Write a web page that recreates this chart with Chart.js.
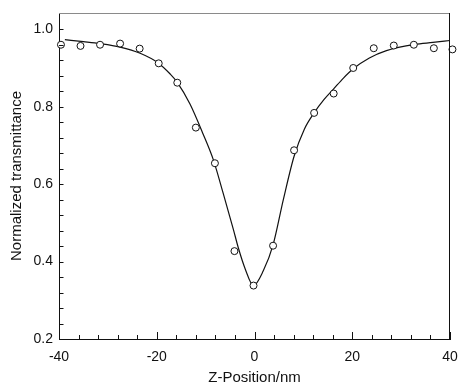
<!DOCTYPE html>
<html>
<head>
<meta charset="utf-8">
<script src="https://cdn.jsdelivr.net/npm/chart.js@4"></script>
<style>
  html, body { margin: 0; padding: 0; background: #fff; }
</style>
</head>
<body>
<canvas id="myChart" width="458" height="389"></canvas>
<script>
// measured points (open circles)
var zPos = [-39.6, -35.6, -31.6, -27.5, -23.5, -19.6, -15.8, -12.0, -8.1, -4.1, -0.2,
    3.8, 8.1, 12.2, 16.2, 20.2, 24.4, 28.5, 32.6, 36.7, 40.5];
var transm = [0.960, 0.957, 0.960, 0.963, 0.950, 0.912, 0.862, 0.746, 0.654, 0.427, 0.338,
    0.441, 0.6875, 0.784, 0.834, 0.900, 0.951, 0.958, 0.960, 0.951, 0.948];

// fitted curve
var fitZ = [-38.8, -35, -31.6, -27.5, -23.4, -19.7, -17.3, -15.8, -13.2, -10.5, -8.4, -6.4,
    -4.3, -3.3, -1.9, -0.2, 1.8, 3.8, 5.9, 8.1, 10.2, 12.2, 14.2, 16.2, 18.2, 20.2, 23.5,
    27.0, 32.8, 36.5, 40];
var fitT = [0.973, 0.968, 0.963, 0.954, 0.938, 0.913, 0.885, 0.863, 0.807, 0.729, 0.662, 0.576,
    0.482, 0.435, 0.381, 0.338, 0.376, 0.443, 0.560, 0.672, 0.742, 0.784, 0.818, 0.846, 0.874, 0.898, 0.926,
    0.945, 0.961, 0.966, 0.971];

var xTicks = [-40, -20, 0, 20, 40];
var yTicks = [0.2, 0.4, 0.6, 0.8, 1.0];
var xMinor = [-36, -32, -28, -24, -16, -12, -8, -4, 4, 8, 12, 16, 24, 28, 32, 36];
var yMinor = [0.24, 0.28, 0.32, 0.36, 0.44, 0.48, 0.52, 0.56, 0.64, 0.68, 0.72, 0.76,
    0.84, 0.88, 0.92, 0.96];

var pts = zPos.map(function (z, i) { return { x: z, y: transm[i] }; });
var fit = fitZ.map(function (z, i) { return { x: z, y: fitT[i] }; });

// frame + inward tick marks
var frame = {
    id: 'frame',
    afterDatasetsDraw: function (chart) {
        var c = chart.ctx, a = chart.chartArea;
        var sx = chart.scales.x, sy = chart.scales.y;
        c.save();
        c.lineWidth = 1;
        c.strokeStyle = '#8a8a8a';
        c.beginPath();
        c.moveTo(a.left, a.top + 0.5);
        c.lineTo(a.right, a.top + 0.5);
        c.stroke();
        c.strokeStyle = '#111';
        c.beginPath();
        c.moveTo(a.right - 0.5, a.top);
        c.lineTo(a.right - 0.5, a.bottom);
        xTicks.forEach(function (v) {
            var px = Math.round(sx.getPixelForValue(v)) + 0.5;
            c.moveTo(px, a.bottom); c.lineTo(px, a.bottom - 7);
        });
        xMinor.forEach(function (v) {
            var px = Math.round(sx.getPixelForValue(v)) + 0.5;
            c.moveTo(px, a.bottom); c.lineTo(px, a.bottom - 4);
        });
        yTicks.concat(yMinor).forEach(function (v) {
            var py = Math.round(sy.getPixelForValue(v)) + 0.5;
            c.moveTo(a.left, py); c.lineTo(a.left + 4.5, py);
        });
        c.stroke();
        c.restore();
    }
};

var ctx = document.getElementById('myChart').getContext('2d');

var myChart = new Chart(ctx, {
    type: 'scatter',
    data: {
        datasets: [{
            label: 'Measured',
            data: pts,
            pointRadius: 3.5,
            pointBorderWidth: 1,
            pointBorderColor: '#111',
            pointBackgroundColor: '#fff',
            showLine: false,
            clip: false,
            order: 0
        }, {
            label: 'Fit',
            data: fit,
            showLine: true,
            pointRadius: 0,
            borderColor: '#111',
            borderWidth: 1.2,
            cubicInterpolationMode: 'monotone',
            order: 1
        }]
    },
    options: {
        responsive: false,
        animation: false,
        layout: { padding: { top: 13, right: 8, left: 0, bottom: 0 } },
        plugins: {
            legend: { display: false },
            tooltip: { enabled: false }
        },
        scales: {
            x: {
                type: 'linear',
                min: -40,
                max: 40,
                afterBuildTicks: function (s) { s.ticks = xTicks.map(function (v) { return { value: v }; }); },
                afterFit: function (s) {
                    s.height = 50;
                    s.paddingLeft = 0;
                    s.paddingRight = 0;
                },
                grid: { drawOnChartArea: false, drawTicks: false, color: 'rgba(0,0,0,0)' },
                border: { display: true, color: '#111', width: 1 },
                ticks: {
                    padding: 10,
                    color: '#111',
                    maxRotation: 0,
                    font: { family: 'Liberation Sans, Arial, sans-serif', size: 14 }
                },
                title: {
                    display: true,
                    text: 'Z-Position/nm',
                    color: '#111',
                    padding: { top: 0, bottom: 2 },
                    font: { family: 'Liberation Sans, Arial, sans-serif', size: 15 }
                }
            },
            y: {
                min: 0.2,
                max: 1.042,
                afterBuildTicks: function (s) { s.ticks = yTicks.map(function (v) { return { value: v }; }); },
                afterFit: function (s) {
                    s.width = 59;
                    s.paddingTop = 0;
                    s.paddingBottom = 0;
                },
                grid: { drawOnChartArea: false, drawTicks: false, color: 'rgba(0,0,0,0)' },
                border: { display: true, color: '#111', width: 1 },
                ticks: {
                    padding: 6,
                    color: '#111',
                    font: { family: 'Liberation Sans, Arial, sans-serif', size: 14 },
                    callback: function (v) { return v.toFixed(1); }
                },
                title: {
                    display: true,
                    text: 'Normalized transmittance',
                    color: '#111',
                    padding: { top: 8, bottom: 0 },
                    font: { family: 'Liberation Sans, Arial, sans-serif', size: 15 }
                }
            }
        }
    },
    plugins: [frame]
});
</script>
</body>
</html>
